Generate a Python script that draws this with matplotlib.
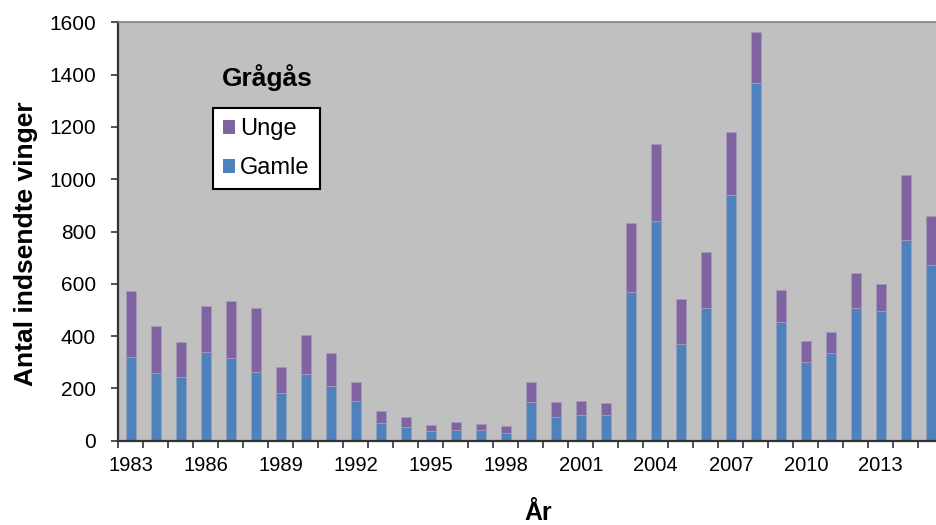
import matplotlib
matplotlib.use("Agg")
import matplotlib.pyplot as plt
from matplotlib.patches import Patch
import numpy as np

years = list(range(1983, 2016))
gamle = [319, 258, 245, 338, 315, 262, 181, 254, 208, 151, 66, 51,
         36, 40, 41, 28, 149, 89, 100, 97, 567, 841, 369, 507, 938, 1367,
         453, 302, 335, 507, 495, 766, 672]
unge_total = [571, 440, 379, 514, 534, 509, 281, 405, 335, 224, 112, 91,
              59, 72, 64, 55, 226, 148, 153, 144, 832, 1135, 542, 722, 1180, 1563,
              576, 382, 416, 641, 598, 1016, 858]
unge = [t - g for t, g in zip(unge_total, gamle)]
label_years = [1983, 1986, 1989, 1992, 1995, 1998, 2001, 2004, 2007, 2010, 2013]

plt.rcParams['font.family'] = ['Liberation Sans', 'DejaVu Sans']

W, H = 936, 525
fig = plt.figure(figsize=(W / 100, H / 100), dpi=100)
fig.patch.set_facecolor('white')
left, right, top, bottom = 118.3, 943.3, 22.3, 440.7
ax = fig.add_axes([left / W, (H - bottom) / H, (right - left) / W, (bottom - top) / H])
ax.set_facecolor('#C0C0C0')

blue = '#4F81BD'
purple = '#8064A2'
x = np.arange(len(years))
ax.bar(x, gamle, width=0.38, color=blue, edgecolor='#8FA3C0', linewidth=0.6, zorder=2)
ax.bar(x, unge, width=0.38, bottom=gamle, color=purple, edgecolor='#A898B8', linewidth=0.6, zorder=2)

ax.set_xlim(-0.5, len(years) - 0.5)
ax.set_ylim(0, 1600)
ax.set_yticks(range(0, 1601, 200))
ax.tick_params(axis='y', labelsize=15, length=5, width=1.2, color='#333333', pad=11)

ax.set_xticks([years.index(y) for y in label_years])
ax.set_xticklabels([str(y) for y in label_years], fontsize=14.5)
ax.set_xticks(np.arange(-0.5, len(years) + 0.5, 1), minor=True)
ax.tick_params(axis='x', which='major', length=0, pad=11)
ax.tick_params(axis='x', which='minor', length=5, width=1.2, color='#333333')

for s in ['left', 'bottom']:
    ax.spines[s].set_color('#333333')
    ax.spines[s].set_linewidth(1.6)
ax.spines['top'].set_color('#808080')
ax.spines['top'].set_linewidth(1.2)
ax.spines['right'].set_visible(False)

fig.text(26 / W, 1 - 244 / H, 'Antal indsendte vinger', fontsize=19, fontweight='bold',
         rotation=90, ha='center', va='center')
fig.text(538 / W, 1 - 513 / H, 'År', fontsize=18, fontweight='bold', ha='center', va='center')

fig.text(267.5 / W, 1 - 78 / H, 'Grågås', fontsize=19, fontweight='bold', ha='center', va='center')

handles = [Patch(facecolor=purple, edgecolor='none', label='Unge'),
           Patch(facecolor=blue, edgecolor='none', label='Gamle')]
leg = fig.legend(handles=handles, loc='upper left',
                 bbox_to_anchor=(213.3 / W, 1 - 108.3 / H), fontsize=17,
                 frameon=True, fancybox=False, framealpha=1, edgecolor='black',
                 handlelength=0.5, handleheight=0.5, handletextpad=0.22,
                 labelspacing=0.73, borderpad=0.42, borderaxespad=0)
leg.get_frame().set_linewidth(1.5)

fig.savefig('out.png', dpi=100)
